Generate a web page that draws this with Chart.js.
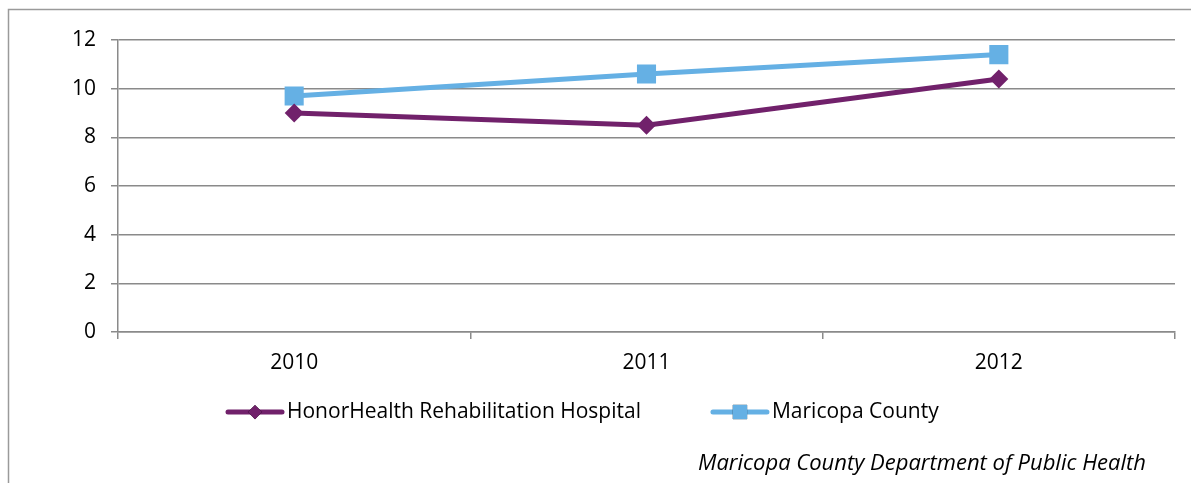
<!DOCTYPE html>
<html>
<head>
<meta charset="utf-8">
<script src="https://cdn.jsdelivr.net/npm/chart.js@4"></script>
<style>
  html, body { margin: 0; padding: 0; background: #fff; }
  #wrap { width: 1191px; height: 483px; position: relative; }
</style>
</head>
<body>
<div id="wrap"><canvas id="line-chart" width="1191" height="483"></canvas></div>
<script>
const years = ['2010', '2011', '2012'];
const honorHealth = [9.0, 8.5, 10.4];
const maricopa = [9.7, 10.6, 11.4];
const yTicks = [0, 2, 4, 6, 8, 10, 12];
const sourceNote = 'Maricopa County Department of Public Health';

const FONT = '"Open Sans", sans-serif';
const PURPLE = '#71216b';
const BLUE = '#65b0e4';
const GRID = '#8a8a8a';

// frame, legend and source line drawn around the chart
const decorations = {
  id: 'decorations',
  beforeDraw(chart) {
    const ctx = chart.ctx;
    ctx.save();
    ctx.fillStyle = '#fff';
    ctx.fillRect(0, 0, chart.width, chart.height);
    ctx.strokeStyle = '#9a9a9a';
    ctx.lineWidth = 1.5;
    ctx.strokeRect(8.5, 9.5, chart.width + 20, chart.height + 20);
    ctx.restore();
  },
  afterDraw(chart) {
    const ctx = chart.ctx;
    ctx.save();
    ctx.font = '21px ' + FONT;
    ctx.textBaseline = 'middle';
    let x = 228;
    const y = 412;
    chart.data.datasets.forEach(ds => {
      ctx.strokeStyle = ds.borderColor;
      ctx.lineWidth = 5;
      ctx.lineCap = 'round';
      ctx.beginPath();
      ctx.moveTo(x, y);
      ctx.lineTo(x + 54, y);
      ctx.stroke();
      Chart.helpers.drawPoint(ctx, {
        pointStyle: ds.pointStyle,
        radius: ds.pointRadius * 0.75,
        rotation: 0,
        borderWidth: 0
      }, x + 27, y);
      ctx.fillStyle = ds.borderColor;
      ctx.fill();
      ctx.fillStyle = '#000';
      ctx.fillText(ds.label, x + 59, y);
      x += 59 + ctx.measureText(ds.label).width + 72;
    });
    ctx.font = 'italic 22px ' + FONT;
    ctx.textAlign = 'right';
    ctx.fillText(sourceNote, 1146, 464);
    ctx.restore();
  }
};

new Chart(document.getElementById('line-chart'), {
  type: 'line',
  data: {
    labels: years,
    datasets: [
      {
        label: 'HonorHealth Rehabilitation Hospital',
        data: honorHealth,
        borderColor: PURPLE,
        backgroundColor: PURPLE,
        borderWidth: 5,
        pointStyle: 'rectRot',
        pointRadius: 9.5,
        pointBorderWidth: 0,
        tension: 0
      },
      {
        label: 'Maricopa County',
        data: maricopa,
        borderColor: BLUE,
        backgroundColor: BLUE,
        borderWidth: 5,
        pointStyle: 'rect',
        pointRadius: 13.5,
        pointBorderWidth: 0,
        tension: 0
      }
    ]
  },
  options: {
    responsive: false,
    animation: false,
    layout: { padding: { left: 0, top: 40, right: 16, bottom: 0 } },
    plugins: {
      legend: { display: false },
      tooltip: { enabled: false }
    },
    scales: {
      x: {
        offset: true,
        afterFit(scale) { scale.height = 151; },
        border: { display: true, color: GRID, width: 1.5 },
        grid: {
          offset: true,
          drawOnChartArea: false,
          drawTicks: true,
          tickLength: 7,
          color: GRID,
          lineWidth: 1.5
        },
        ticks: {
          padding: 11,
          color: '#000',
          font: { family: FONT, size: 21 }
        }
      },
      y: {
        min: 0,
        max: 12,
        afterFit(scale) { scale.width = 118; },
        afterBuildTicks(scale) { scale.ticks = yTicks.map(v => ({ value: v })); },
        border: { display: true, color: GRID, width: 1.5 },
        grid: {
          color: GRID,
          lineWidth: 1.5,
          tickLength: 7
        },
        ticks: {
          padding: 15,
          color: '#000',
          font: { family: FONT, size: 21 }
        }
      }
    }
  },
  plugins: [decorations]
});
</script>
</body>
</html>
